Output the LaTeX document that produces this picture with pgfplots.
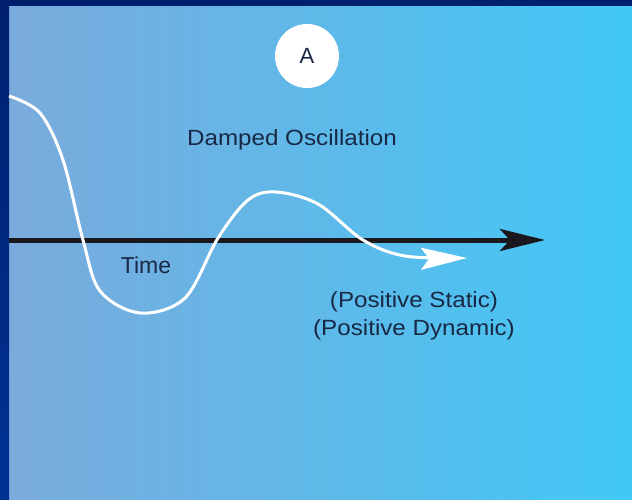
\documentclass[border=0pt]{standalone}
\usepackage{pgfplots}
\pgfplotsset{compat=1.18}
\usetikzlibrary{arrows.meta}
\usepackage{fontspec}
\setmainfont{Liberation Sans}
\definecolor{txt}{RGB}{25,40,68}
\definecolor{bgL}{RGB}{123,170,220}
\definecolor{bgR}{RGB}{66,200,246}
\definecolor{bordTop}{RGB}{0,32,110}
\definecolor{bordBot}{RGB}{0,50,148}
\definecolor{arr}{RGB}{26,24,28}
\begin{document}
\begin{tikzpicture}
\begin{axis}[width=632pt,height=499pt,scale only axis,
  xmin=0,xmax=632,ymin=0,ymax=499,y dir=reverse,hide axis,clip=false]
\fill[left color=bgL,right color=bgR] (axis cs:0,0) rectangle (axis cs:632,499);
\shade[top color=bordTop,bottom color=bordBot] (axis cs:0,0) rectangle (axis cs:9,499);
\fill[bordTop] (axis cs:0,0) rectangle (axis cs:632,6);
\addplot[arr, line width=5pt, -{Stealth[length=45pt,width=22pt,inset=10pt]}]
  coordinates {(9,240) (545,240)};
\addplot[white, line width=3pt, smooth, tension=0.55, -{Stealth[length=46pt,width=22pt,inset=8pt]}]
  coordinates {(9,96) (40,113) (63,160) (83,240) (100,291) (140,313)
  (185,298) (218,238) (248,200) (276,192) (318,204) (363,240) (405,256) (467,258)};
\node[circle,fill=white,minimum size=64pt,inner sep=0pt,font=\fontsize{22}{26}\selectfont,text=txt] at (axis cs:307,56) {A};
\node[font=\fontsize{22}{26}\selectfont,text=txt,xscale=1.1] at (axis cs:292,140) {Damped Oscillation};
\node[font=\fontsize{23}{26}\selectfont,text=txt] at (axis cs:146,265) {Time};
\node[font=\fontsize{22}{26}\selectfont,text=txt,xscale=1.1] at (axis cs:414,302) {(Positive Static)};
\node[font=\fontsize{22}{26}\selectfont,text=txt,xscale=1.1] at (axis cs:414,330) {(Positive Dynamic)};
\end{axis}
\end{tikzpicture}
\end{document}
